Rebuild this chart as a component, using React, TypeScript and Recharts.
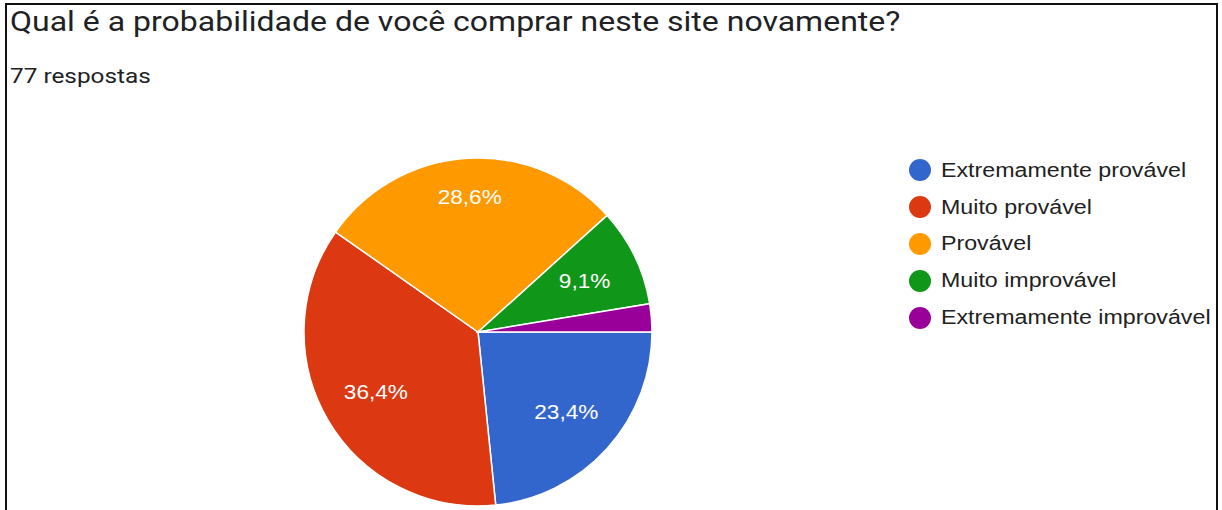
import React from "react";
import { PieChart, Pie, Cell, Legend } from "recharts";

const categories = [
  "Extremamente provável",
  "Muito provável",
  "Provável",
  "Muito improvável",
  "Extremamente improvável",
];
const counts = [18, 28, 22, 7, 2];
const colors = ["#3366CC", "#DC3912", "#FF9900", "#109618", "#990099"];
const title = "Qual é a probabilidade de você comprar neste site novamente?";
const subtitle = "77 respostas";

const data = categories.map((name, i) => ({ name, value: counts[i] }));
const total = counts.reduce((a, b) => a + b, 0);

const RAD = Math.PI / 180;
const STRETCH = 1.16;

const renderLabel = (props: any) => {
  const { cx, cy, midAngle, outerRadius, value } = props;
  const pct = (value / total) * 100;
  if (pct < 5) return null;
  const s = Math.sin(-midAngle * RAD);
  const c = Math.cos(-midAngle * RAD);
  // labels near the vertical axis sit a little further out
  const r = outerRadius * (0.68 + 0.1 * Math.pow(Math.abs(s), 8));
  const x = cx + r * c;
  const y = cy + r * s;
  return (
    <text
      transform={`translate(${x},${y}) scale(${STRETCH},1)`}
      x={0}
      y={0}
      fill="#ffffff"
      textAnchor="middle"
      dominantBaseline="central"
      fontFamily="Arial, 'Liberation Sans', sans-serif"
      fontSize={19.5}
    >
      {pct.toFixed(1).replace(".", ",") + "%"}
    </text>
  );
};

const renderLegend = () => (
  <div style={{ fontFamily: "Arial, 'Liberation Sans', sans-serif", fontSize: 19.5, color: "#222222" }}>
    {data.map((d, i) => (
      <div key={d.name} style={{ display: "flex", alignItems: "center", height: 36.8 }}>
        <span
          style={{
            display: "inline-block",
            width: 22,
            height: 22,
            borderRadius: "50%",
            background: colors[i],
            marginRight: 10,
            flex: "none",
          }}
        />
        <span
          style={{
            display: "inline-block",
            whiteSpace: "nowrap",
            transform: `scaleX(${STRETCH + 0.03})`,
            transformOrigin: "left center",
          }}
        >
          {d.name}
        </span>
      </div>
    ))}
  </div>
);

export default function App() {
  return (
    <div
      style={{
        position: "absolute",
        left: 0,
        top: 0,
        width: 1222,
        height: 510,
        background: "#ffffff",
        overflow: "hidden",
      }}
    >
      <div
        style={{
          position: "absolute",
          left: 5,
          top: 3,
          width: 1213,
          height: 520,
          border: "2.5px solid #111111",
          boxSizing: "border-box",
        }}
      />
      <div
        style={{
          position: "absolute",
          left: 10,
          top: 8,
          fontFamily: "Roboto, Arial, sans-serif",
          fontSize: 28,
          lineHeight: 1,
          color: "#202124",
          whiteSpace: "nowrap",
          transform: "scaleX(1.143)",
          transformOrigin: "left top",
        }}
      >
        {title}
      </div>
      <div
        style={{
          position: "absolute",
          left: 10,
          top: 66,
          fontFamily: "Roboto, Arial, sans-serif",
          fontSize: 21,
          lineHeight: 1,
          color: "#202124",
          whiteSpace: "nowrap",
          transform: `scaleX(${STRETCH})`,
          transformOrigin: "left top",
        }}
      >
        {subtitle}
      </div>
      <div style={{ position: "absolute", left: 0, top: 0 }}>
        <PieChart width={1222} height={510} margin={{ top: 0, right: 0, bottom: 0, left: 0 }}>
          <Pie
            data={data}
            dataKey="value"
            nameKey="name"
            cx={478}
            cy={332}
            outerRadius={174}
            startAngle={0}
            endAngle={-360}
            stroke="#ffffff"
            strokeWidth={1.5}
            label={renderLabel}
            labelLine={false}
            isAnimationActive={false}
          >
            {data.map((d, i) => (
              <Cell key={d.name} fill={colors[i]} />
            ))}
          </Pie>
          <Legend
            content={renderLegend}
            wrapperStyle={{ position: "absolute", left: 909, top: 152, width: 310 }}
          />
        </PieChart>
      </div>
    </div>
  );
}
